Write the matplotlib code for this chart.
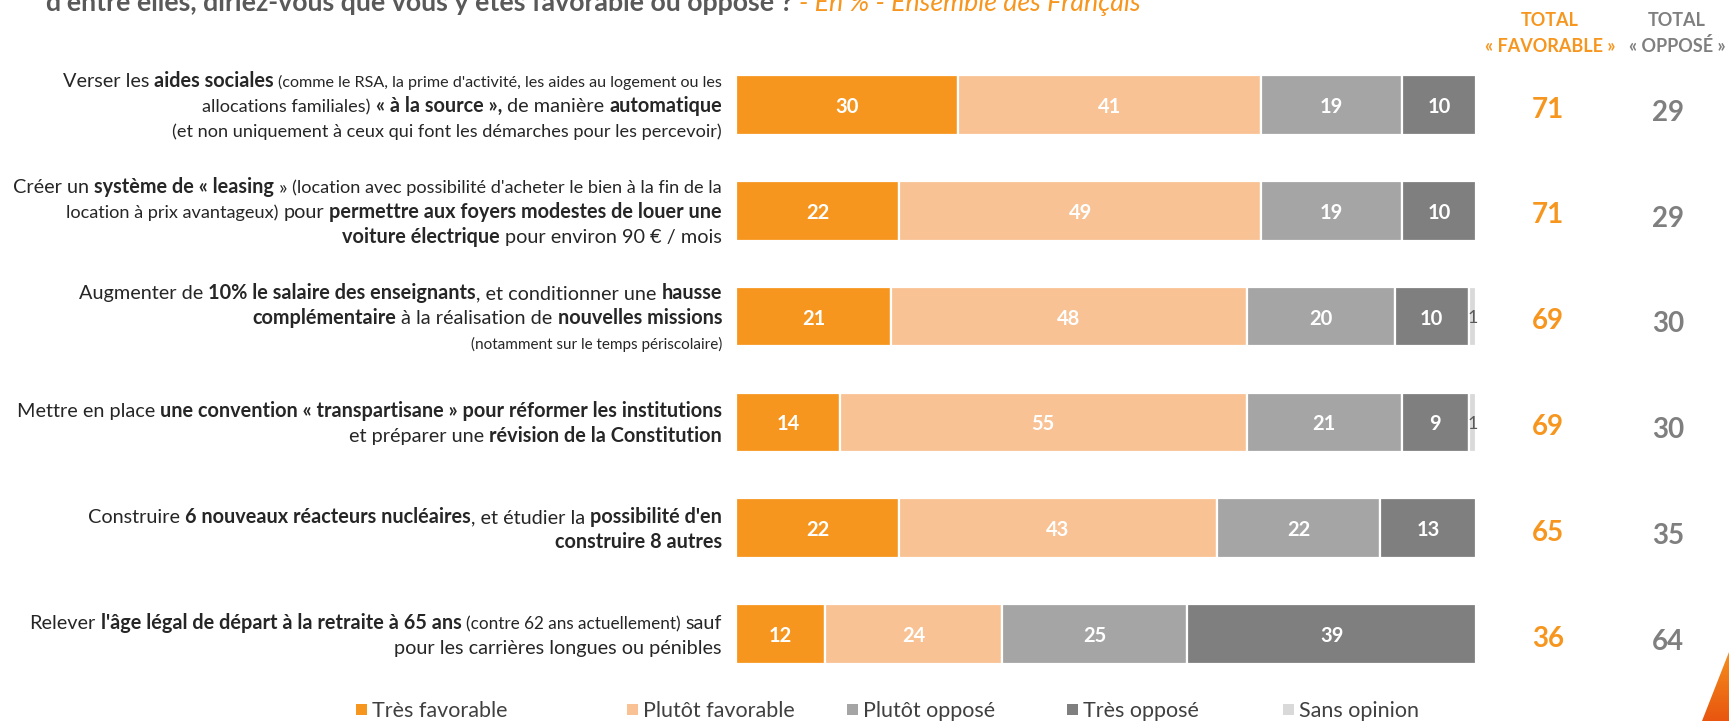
import matplotlib
matplotlib.use("Agg")
import matplotlib.pyplot as plt
from matplotlib.transforms import IdentityTransform, blended_transform_factory
from matplotlib.patches import Polygon, Rectangle
from matplotlib.colors import LinearSegmentedColormap
import numpy as np

FONT = "Lato"
plt.rcParams['font.family'] = [FONT, 'DejaVu Sans']

# ---------------- data ----------------
series_names = ["Très favorable", "Plutôt favorable", "Plutôt opposé", "Très opposé", "Sans opinion"]
tres_fav = [30, 22, 21, 14, 22, 12]
plutot_fav = [41, 49, 48, 55, 43, 24]
plutot_opp = [19, 19, 20, 21, 22, 25]
tres_opp = [10, 10, 10, 9, 13, 39]
sans_op = [0, 0, 1, 1, 0, 0]
total_fav = [71, 71, 69, 69, 65, 36]
total_opp = [29, 29, 30, 30, 35, 64]

# category labels: lines of (text, style)
categories = [
    [[("Verser les ", 'r'), ("aides sociales", 'b'), (" (comme le RSA, la prime d'activité, les aides au logement ou les", 's1')],
     [("allocations familiales)", 'm'), (" « à la source »,", 'b'), (" de manière ", 'r'), ("automatique", 'b')],
     [("(et non uniquement à ceux qui font les démarches pour les percevoir)", 'm')]],
    [[("Créer un ", 'r'), ("système de « leasing", 'b'), (" » ", 'r'), ("(location avec possibilité d'acheter le bien à la fin de la", 'm2')],
     [("location à prix avantageux)", 'm'), (" pour ", 'r'), ("permettre aux foyers modestes de louer une", 'b')],
     [("voiture électrique", 'b'), (" pour environ 90 € / mois", 'r')]],
    [[("Augmenter de ", 'r'), ("10% le salaire des enseignants", 'b'), (", et conditionner une ", 'r'), ("hausse", 'b')],
     [("complémentaire", 'b'), (" à la réalisation de ", 'r'), ("nouvelles missions", 'b')],
     [("(notamment sur le temps périscolaire)", 's')]],
    [[("Mettre en place ", 'r'), ("une convention « transpartisane » pour réformer les institutions", 'b')],
     [("et préparer une ", 'r'), ("révision de la Constitution", 'b')]],
    [[("Construire ", 'r'), ("6 nouveaux réacteurs nucléaires", 'b'), (", et étudier la ", 'r'), ("possibilité d'en", 'b')],
     [("construire 8 autres", 'b')]],
    [[("Relever ", 'r'), ("l'âge légal de départ à la retraite à 65 ans", 'b'), (" (contre 62 ans actuellement)", 's6'), (" sauf", 'r')],
     [("pour les carrières longues ou pénibles", 'r')]],
]

title_segments = [("d'entre elles, diriez-vous que vous y êtes favorable ou opposé ?", 'tb'),
                  (" - En % - Ensemble des Français", 'ti')]

colors = ["#F7961F", "#F9C294", "#A5A5A5", "#7F7F7F", "#D9D9D9"]
ORANGE = "#F7961F"
GRAY = "#7F7F7F"
TXT = "#262626"

W, H = 1729, 721
fig = plt.figure(figsize=(W / 100, H / 100), dpi=100)
fig.patch.set_facecolor("white")


def fx(px):
    return px / W


def fy(py):
    return 1 - py / H


# ---------------- bars ----------------
ax_top, ax_bot = 52, 687
ax = fig.add_axes([fx(736), fy(ax_bot), (1476 - 736) / W, (ax_bot - ax_top) / H])
n = len(tres_fav)
ypos = np.arange(n)
left = np.zeros(n)
series = [tres_fav, plutot_fav, plutot_opp, tres_opp, sans_op]
for vals, col in zip(series, colors):
    vals = np.array(vals, dtype=float)
    mask = vals > 0
    ax.barh(ypos[mask], vals[mask], left=left[mask], height=0.565, color=col,
            edgecolor="white", linewidth=1.6)
    for yi, v, l in zip(ypos, vals, left):
        if v <= 0:
            continue
        if v >= 3:
            ax.text(l + v / 2, yi, f"{int(v)}", ha="center", va="center_baseline",
                    color="white", fontsize=14.5, fontweight="bold")
        else:
            ax.text(l + v / 2, yi, f"{int(v)}", ha="center", va="center_baseline",
                    color="#595959", fontsize=13)
    left += vals
ax.set_xlim(0, 100)
ax.set_ylim(n - 0.5, -0.5)
ax.axis("off")

# ---------------- totals ----------------
bt = blended_transform_factory(fig.transFigure, ax.transData)
for i in range(n):
    ax.text(fx(1548), i + 0.02, str(total_fav[i]), transform=bt, ha="center", va="center_baseline",
            color=ORANGE, fontsize=20, fontweight="bold")
    ax.text(fx(1668), i + 0.05, str(total_opp[i]), transform=bt, ha="center", va="center_baseline",
            color=GRAY, fontsize=20, fontweight="bold")

fig.text(fx(1550), fy(20), "TOTAL", ha="center", va="center", color=ORANGE, fontsize=13, fontweight="bold")
fig.text(fx(1550), fy(46), "« FAVORABLE »", ha="center", va="center", color=ORANGE, fontsize=13, fontweight="bold")
fig.text(fx(1677), fy(20), "TOTAL", ha="center", va="center", color=GRAY, fontsize=13, fontweight="bold")
fig.text(fx(1677), fy(46), "« OPPOSÉ »", ha="center", va="center", color=GRAY, fontsize=13, fontweight="bold")

# ---------------- rich text labels ----------------
renderer = fig.canvas.get_renderer()
STY = {
    'r': dict(fontsize=14.3, fontweight="normal", color=TXT),
    'b': dict(fontsize=14.3, fontweight="bold", color=TXT),
    'm': dict(fontsize=13.1, fontweight="normal", color=TXT),
    'm2': dict(fontsize=13.1, fontweight="normal", color=TXT),
    's1': dict(fontsize=11.6, fontweight="normal", color=TXT),
    's': dict(fontsize=11.0, fontweight="normal", color=TXT),
    's6': dict(fontsize=12.3, fontweight="normal", color=TXT),
    'tb': dict(fontsize=19.3, fontweight="bold", color="#595959"),
    'ti': dict(fontsize=19.3, fontweight="normal", style="italic", color=ORANGE),
}


def tw(s, st):
    t = fig.text(0, 0, s, transform=IdentityTransform(), **STY[st])
    w = t.get_window_extent(renderer).width
    t.remove()
    return w


_spc = {}


def sw(st):
    if st not in _spc:
        _spc[st] = tw("a a", st) - tw("aa", st)
    return _spc[st]


def measure(segs):
    parts = []
    for s, st in segs:
        lead = len(s) - len(s.lstrip(" "))
        trail = len(s) - len(s.rstrip(" "))
        core = s.strip(" ")
        parts.append((core, st, lead * sw(st), tw(core, st), trail * sw(st)))
    total = sum(p[2] + p[3] + p[4] for p in parts)
    return parts, total


def draw_line(segs, x, y_top, align="right"):
    parts, total = measure(segs)
    cx = x - total if align == "right" else x
    yd = H - y_top
    for core, st, lw, w, trw in parts:
        cx += lw
        fig.text(cx, yd, core, transform=IdentityTransform(), ha="left", va="baseline", **STY[st])
        cx += w + trw


row_px = [ax.transData.transform((0, i))[1] for i in range(n)]
LINE = 25
for i, lines in enumerate(categories):
    c = H - row_px[i] + 2
    k = len(lines)
    for j, segs in enumerate(lines):
        yc = c + (j - (k - 1) / 2) * LINE
        draw_line(segs, 722, yc + 5.5)

# title (partially cropped at top, as in the source slide)
draw_line(title_segments, 46, 11, align="left")

# ---------------- legend ----------------
leg_x = [356, 627, 847, 1067, 1283]
for xs, name, col in zip(leg_x, series_names, colors):
    fig.patches.append(Rectangle((xs, H - 709 - 5.5), 11, 11, transform=IdentityTransform(),
                                 facecolor=col, edgecolor="none", figure=fig))
    fig.text(xs + 16, H - 709, name, transform=IdentityTransform(), ha="left", va="center_baseline",
             fontsize=15.5, color="#404040")

# ---------------- decorative triangle ----------------
bg = fig.add_axes([0, 0, 1, 1], zorder=-1)
bg.set_xlim(0, W)
bg.set_ylim(H, 0)
bg.axis("off")
grad = np.linspace(0, 1, 100).reshape(-1, 1)
cmap = LinearSegmentedColormap.from_list("o", ["#F7931E", "#E8560F"])
im = bg.imshow(grad, extent=(1695, W, H, 645), cmap=cmap, aspect="auto")
tri = Polygon([(1702, H), (1729, 652), (1729, H)], closed=True, transform=bg.transData,
              facecolor="none", edgecolor="none")
bg.add_patch(tri)
im.set_clip_path(tri)

fig.savefig("out.png", dpi=100, facecolor="white")
